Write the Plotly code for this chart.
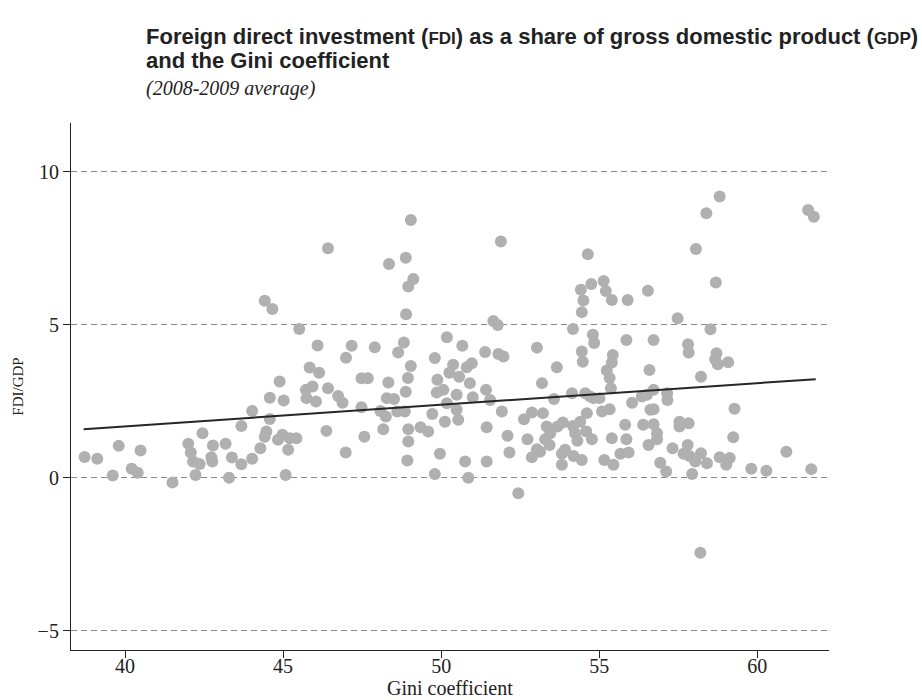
import plotly.graph_objects as go

# Gini coefficient (x) and FDI as % of GDP (y), 2008-2009 averages
gini = [
    38.72, 39.12, 39.80, 39.61, 40.21, 40.40, 40.49, 41.50, 42.00, 42.08,
    42.15, 42.36, 42.23, 42.45, 42.78, 42.73, 42.76, 43.18, 43.38, 43.29,
    43.68, 43.68, 44.02, 44.02, 44.28, 44.42, 44.47, 44.58, 44.58, 44.89,
    45.02, 44.98, 44.84, 45.21, 45.42, 45.16, 45.08, 45.72, 45.93, 45.74,
    46.04, 46.42, 46.74, 46.88, 46.37, 46.98, 47.48, 47.57, 47.48, 47.68,
    48.33, 48.28, 48.51, 48.08, 48.25, 48.61, 48.85, 48.17, 48.88, 48.96,
    48.96, 48.93, 48.95, 49.35, 49.59, 49.72, 49.96, 49.80, 49.86, 50.07,
    50.18, 50.12, 49.88, 50.49, 50.49, 50.54, 50.91, 51.00, 51.42, 51.55,
    51.44, 50.76, 50.86, 51.44, 51.92, 52.10, 52.16, 52.44, 53.19, 52.62,
    52.87, 53.22, 52.73, 52.87, 53.03, 53.13, 53.34, 53.45, 53.29, 53.43,
    53.57, 53.68, 53.85, 53.92, 53.82, 53.82, 54.14, 54.17, 54.24, 54.45,
    54.19, 54.40, 54.61, 54.56, 54.71, 54.82, 55.01, 54.31, 54.59, 54.77,
    55.09, 55.33, 55.16, 55.45, 55.33, 55.37, 55.40, 55.82, 55.86, 55.67,
    55.93, 56.04, 56.35, 56.39, 56.56, 56.62, 56.72, 56.51, 57.15, 57.16,
    56.72, 56.72, 56.83, 56.83, 57.54, 57.54, 57.83, 57.32, 57.80, 57.67,
    57.86, 58.04, 58.22, 58.41, 56.93, 57.12, 57.94, 58.22, 59.28, 59.24,
    58.81, 59.13, 59.02, 59.81, 60.29, 60.92, 61.71,
    46.42, 48.35, 48.88, 49.12, 48.96, 44.42, 44.66, 48.89, 45.51, 46.09,
    47.17, 47.90, 48.82, 48.64, 46.99, 49.80, 45.84, 46.14, 49.04,
    51.89, 54.64, 54.75, 55.14, 55.21, 55.40, 54.42, 54.50, 54.45, 55.90,
    51.65, 51.79, 54.17, 54.80, 54.84, 55.86, 50.18, 50.67, 51.39, 51.81,
    51.97, 53.03, 53.66, 54.45, 54.48, 55.43, 55.40, 55.24, 50.38, 50.26,
    50.57, 50.97, 50.81,
    58.81, 58.39, 61.61, 61.79, 58.06, 58.69, 56.54, 57.48, 58.52, 56.72,
    57.81, 57.83, 58.71, 58.67, 58.75, 59.08, 56.59, 49.04, 58.20,
]
fdi_gdp = [
    0.68, 0.62, 1.04, 0.07, 0.29, 0.16, 0.89, -0.16, 1.11, 0.82,
    0.53, 0.45, 0.09, 1.45, 1.05, 0.67, 0.53, 1.11, 0.66, 0.00,
    0.44, 1.69, 2.18, 0.62, 0.96, 1.34, 1.51, 2.61, 1.92, 3.14,
    2.52, 1.40, 1.24, 1.29, 1.29, 0.91, 0.09, 2.87, 2.98, 2.60,
    2.49, 2.92, 2.67, 2.45, 1.53, 0.82, 2.30, 1.34, 3.25, 3.25,
    3.11, 2.60, 2.57, 2.18, 2.00, 2.16, 2.16, 1.58, 2.81, 1.58,
    1.18, 0.56, 3.26, 1.65, 1.51, 2.08, 0.78, 0.12, 2.78, 2.87,
    2.43, 1.83, 3.20, 2.71, 2.22, 1.89, 3.09, 2.63, 2.87, 2.54,
    1.65, 0.53, 0.00, 0.53, 2.16, 1.37, 0.82, -0.51, 3.09, 1.91,
    2.13, 2.11, 1.26, 0.67, 0.93, 0.85, 1.67, 1.45, 1.26, 1.07,
    2.57, 1.67, 1.80, 0.91, 0.78, 0.42, 2.76, 1.69, 1.45, 0.58,
    0.71, 1.83, 2.11, 2.76, 2.65, 2.60, 2.60, 1.21, 1.51, 1.26,
    2.16, 2.24, 0.58, 0.42, 3.26, 2.92, 1.29, 1.73, 1.26, 0.78,
    0.82, 2.45, 2.65, 1.73, 1.07, 2.22, 2.87, 2.71, 2.76, 2.54,
    2.24, 1.75, 1.45, 1.26, 1.83, 1.67, 1.78, 0.96, 1.07, 0.78,
    0.71, 0.53, 0.80, 0.47, 0.49, 0.20, 0.12, 3.30, 2.25, 1.32,
    0.67, 0.64, 0.42, 0.29, 0.23, 0.85, 0.28,
    7.50, 6.98, 7.19, 6.49, 6.25, 5.78, 5.51, 5.34, 4.86, 4.32,
    4.31, 4.26, 4.42, 4.09, 3.92, 3.91, 3.60, 3.43, 3.65,
    7.72, 7.30, 6.33, 6.43, 6.10, 5.81, 6.14, 5.79, 5.41, 5.81,
    5.12, 4.99, 4.86, 4.67, 4.40, 4.50, 4.59, 4.31, 4.11, 4.04,
    3.96, 4.25, 3.61, 4.12, 3.79, 4.01, 3.76, 3.50, 3.69, 3.43,
    3.30, 3.74, 3.61,
    9.19, 8.64, 8.75, 8.53, 7.47, 6.38, 6.11, 5.21, 4.85, 4.50,
    4.36, 4.09, 4.07, 3.87, 3.71, 3.77, 3.52, 8.42, -2.45,
]

# Fitted linear trend, evaluated at the ends of the Gini range
trend_gini = [38.69, 61.85]
trend_fdi = [1.585, 3.22]

x_ticks = [40, 45, 50, 55, 60]
y_ticks = [-5, 0, 5, 10]

SERIF = "Liberation Serif, Times New Roman, serif"
SANS = "Liberation Sans, Arial, sans-serif"
INK = "#222222"

# Plot area in pixels (left, right, top, bottom)
L, R, T, B = 71, 829, 123, 650
W, H = 922, 700


def px_to_paper(px, py):
    return (px - L) / (R - L), (B - py) / (B - T)


fig = go.Figure()
fig.add_trace(go.Scatter(
    x=gini, y=fdi_gdp, mode="markers",
    marker=dict(size=12, color="#b0b0b0", line=dict(width=0)),
    hoverinfo="x+y", showlegend=False,
))
fig.add_trace(go.Scatter(
    x=trend_gini, y=trend_fdi, mode="lines",
    line=dict(color="#262626", width=2), showlegend=False,
))

title_x, line1_y = px_to_paper(144, 36)
_, line2_y = px_to_paper(144, 61)
_, sub_y = px_to_paper(144, 88)
xlab_x, xlab_y = px_to_paper((L + R) / 2, 688)

small = "<span style='font-size:17px'>{}</span>"

fig.update_layout(
    width=W, height=H,
    margin=dict(l=L, r=W - R, t=T, b=H - B, autoexpand=False),
    paper_bgcolor="white", plot_bgcolor="white",
    font=dict(family=SERIF, color=INK),
    xaxis=dict(
        range=[38.29, 62.27], tickvals=x_ticks, automargin=False,
        showgrid=False, zeroline=False,
        showline=True, linecolor=INK, linewidth=1.2,
        ticks="outside", ticklen=7, tickcolor=INK, tickwidth=1,
        ticklabelstandoff=-9,
        tickfont=dict(family=SERIF, size=20, color=INK),
    ),
    yaxis=dict(
        range=[-5.63, 11.59], tickvals=y_ticks, automargin=False,
        showgrid=True, gridcolor="#8a8a8a", gridwidth=1, griddash="6px,4px",
        zeroline=False,
        showline=True, linecolor=INK, linewidth=1.2,
        ticks="outside", ticklen=7, tickcolor=INK, tickwidth=1,
        tickfont=dict(family=SERIF, size=20, color=INK),
        title=dict(text="FDI/GDP", standoff=10,
                   font=dict(family=SERIF, size=15, color=INK)),
    ),
    annotations=[
        dict(
            text="Gini coefficient",
            xref="paper", yref="paper", x=xlab_x, y=xlab_y,
            xanchor="center", yanchor="middle", showarrow=False,
            font=dict(family=SERIF, size=20, color=INK),
        ),
        dict(
            text=("<b>Foreign direct investment (" + small.format("FDI") + ") "
                  "as a share of gross domestic product (" + small.format("GDP") + ")</b>"),
            xref="paper", yref="paper", x=title_x, y=line1_y,
            xanchor="left", yanchor="middle", showarrow=False,
            font=dict(family=SANS, size=22, color=INK),
        ),
        dict(
            text="<b>and the Gini coefficient</b>",
            xref="paper", yref="paper", x=title_x, y=line2_y,
            xanchor="left", yanchor="middle", showarrow=False,
            font=dict(family=SANS, size=22, color=INK),
        ),
        dict(
            text="<i>(2008-2009 average)</i>",
            xref="paper", yref="paper", x=title_x, y=sub_y,
            xanchor="left", yanchor="middle", showarrow=False,
            font=dict(family=SERIF, size=20, color=INK),
        ),
    ],
)

fig.write_html("out.html")
